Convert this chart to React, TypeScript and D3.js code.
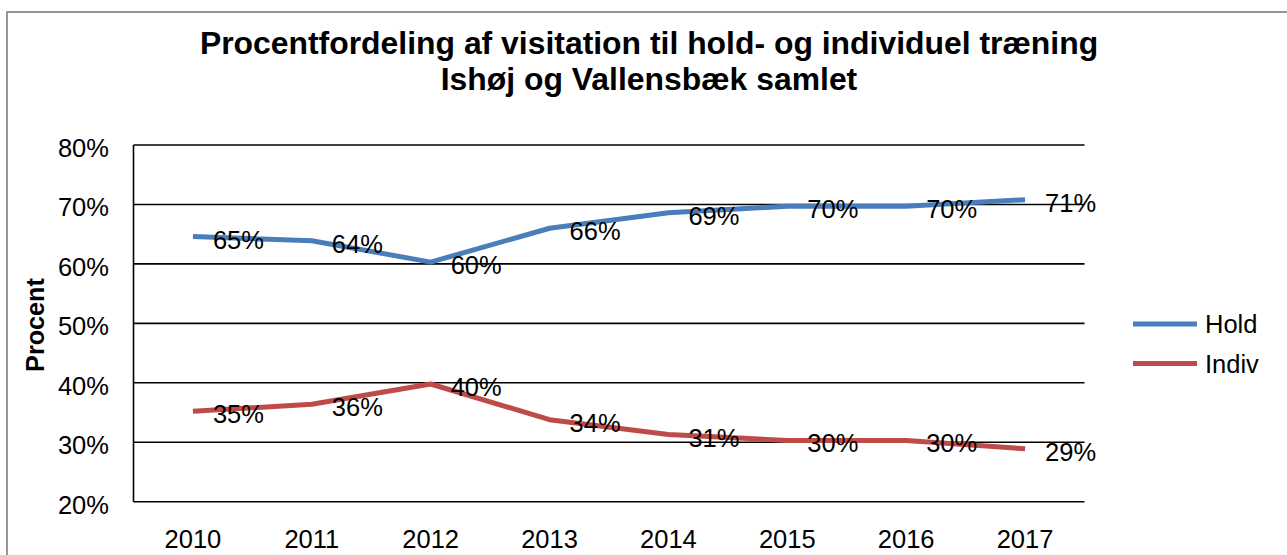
import React from "react";
import * as d3 from "d3";

const years = ["2010", "2011", "2012", "2013", "2014", "2015", "2016", "2017"];
const holdValues = [64.6, 63.9, 60.3, 66.0, 68.6, 69.7, 69.7, 70.8];
const indivValues = [35.2, 36.4, 39.8, 33.8, 31.3, 30.3, 30.3, 28.9];
const holdLabels = ["65%", "64%", "60%", "66%", "69%", "70%", "70%", "71%"];
const indivLabels = ["35%", "36%", "40%", "34%", "31%", "30%", "30%", "29%"];
const yTicks = [20, 30, 40, 50, 60, 70, 80];
const seriesNames = ["Hold", "Indiv"];
const colors = ["#4A7EBB", "#BE4B48"];

const W = 1287;
const H = 555;
const plot = { left: 133.5, right: 1084.5, top: 145, bottom: 501.7 };
const FONT = "Arial, 'Liberation Sans', sans-serif";

export default function App() {
  const x = d3.scalePoint<string>().domain(years).range([plot.left, plot.right]).padding(0.5);
  const y = d3.scaleLinear().domain([20, 80]).range([plot.bottom, plot.top]);
  const line = d3
    .line<number>()
    .x((_, i) => x(years[i]) as number)
    .y((d) => y(d));

  const series = [
    { name: seriesNames[0], values: holdValues, labels: holdLabels, color: colors[0] },
    { name: seriesNames[1], values: indivValues, labels: indivLabels, color: colors[1] },
  ];

  return (
    <svg
      width={W}
      height={H}
      style={{ position: "absolute", left: 0, top: 0, background: "#fff" }}
      fontFamily={FONT}
    >
      <rect x={0} y={0} width={W} height={H} fill="#fff" />
      <rect x={7} y={12} width={1300} height={600} fill="none" stroke="#8c8c8c" strokeWidth={1.8} />

      <text x={649} y={54} textAnchor="middle" fontSize={31.9} fontWeight="bold" fill="#000">
        Procentfordeling af visitation til hold- og individuel træning
      </text>
      <text x={649} y={89.5} textAnchor="middle" fontSize={31.9} fontWeight="bold" fill="#000">
        Ishøj og Vallensbæk samlet
      </text>

      {yTicks.map((t) => (
        <g key={t}>
          <line x1={plot.left} x2={plot.right} y1={y(t)} y2={y(t)} stroke="#000" strokeWidth={1.6} />
          <text x={109} y={y(t) + 12} textAnchor="end" fontSize={25.5} fill="#000">
            {t}%
          </text>
        </g>
      ))}
      <line x1={plot.left} x2={plot.left} y1={plot.top} y2={plot.bottom} stroke="#000" strokeWidth={1.6} />

      {years.map((yr) => (
        <text key={yr} x={x(yr) as number} y={548} textAnchor="middle" fontSize={25.5} fill="#000">
          {yr}
        </text>
      ))}

      <text
        transform={`translate(44,325) rotate(-90)`}
        textAnchor="middle"
        fontSize={25.2}
        fontWeight="bold"
        fill="#000"
      >
        Procent
      </text>

      {series.map((s) => (
        <path
          key={s.name}
          d={line(s.values) || ""}
          fill="none"
          stroke={s.color}
          strokeWidth={5}
          strokeLinejoin="round"
        />
      ))}

      {series.map((s) =>
        s.values.map((v, i) => (
          <text
            key={s.name + i}
            x={(x(years[i]) as number) + 20}
            y={y(v) + 12}
            textAnchor="start"
            fontSize={25.5}
            fill="#000"
          >
            {s.labels[i]}
          </text>
        ))
      )}

      {series.map((s, i) => (
        <g key={"leg" + s.name}>
          <line x1={1133} x2={1197} y1={324 + i * 39.5} y2={324 + i * 39.5} stroke={s.color} strokeWidth={5} />
          <text x={1205} y={324 + i * 39.5 + 9} fontSize={25.5} fill="#000">
            {s.name}
          </text>
        </g>
      ))}
    </svg>
  );
}
